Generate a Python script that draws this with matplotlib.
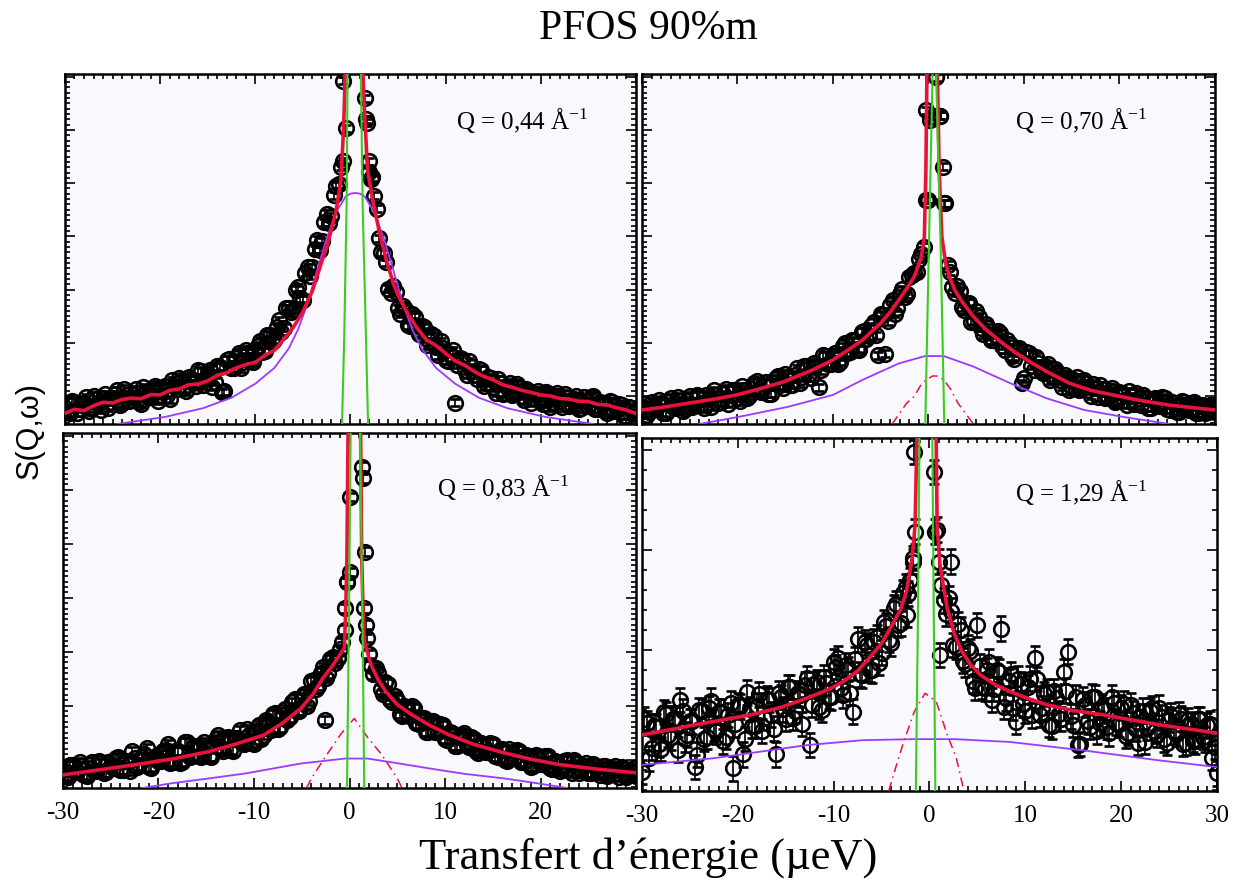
import numpy as np
import matplotlib
matplotlib.use("Agg")
import matplotlib.pyplot as plt
from matplotlib.ticker import FixedLocator

plt.rcParams['axes.unicode_minus'] = False
plt.rcParams['mathtext.fontset'] = 'custom'
plt.rcParams['mathtext.rm'] = 'Liberation Serif'

# ---------------- data (arbitrary intensity units, 0-100 per panel) ----------------
# energy channels (µeV): two interleaved channel sets
energy = np.linspace(-30, 30, 121)
energy_b = np.linspace(-29.75, 29.75, 120)

q_values = ['0,44', '0,70', '0,83', '1,29']

s1 = [4.5, 3.1, 6.4, 4.3, 6.1, 3.7, 8.0, 5.7, 7.5, 4.6,
      7.3, 9.7, 5.9, 8.4, 6.9, 9.9, 5.8, 9.0, 7.6, 10.8,
      8.3, 10.8, 7.1, 10.8, 13.1, 10.2, 13.3, 11.7, 15.3, 11.2,
      14.4, 10.7, 16.5, 9.0, 18.3, 16.0, 18.9, 15.9, 21.2, 18.2,
      20.8, 23.8, 20.8, 25.3, 24.1, 29.6, 27.5, 33.0, 32.6, 39.1,
      35.5, 44.8, 44.8, 52.7, 52.2, 60.0, 59.4, 68.0, 73.5, 84.5,
      130, 150, 125, 93.0, 75.0, 65.2, 53.1, 48.8, 38.6, 39.4,
      33.0, 33.6, 28.2, 31.3, 27.0, 28.0, 22.5, 25.6, 21.9, 23.7,
      18.2, 20.0, 6.0, 18.9, 15.4, 17.9, 14.0, 15.6, 10.8, 13.3,
      10.5, 12.8, 8.6, 10.7, 8.2, 11.3, 8.0, 9.9, 6.1, 8.5,
      6.5, 9.1, 4.8, 8.0, 6.6, 8.6, 5.0, 7.0, 4.3, 7.6,
      5.2, 8.0, 4.3, 6.0, 3.2, 6.3, 4.1, 5.5, 2.4, 4.6,
      3.0]
t1 = [3.3, 6.5, 3.2, 5.8, 7.7, 4.5, 7.0, 4.1, 8.5, 6.3,
      8.5, 5.3, 10.1, 6.6, 8.4, 6.3, 10.5, 7.6, 10.2, 6.6,
      10.3, 8.3, 12.5, 9.9, 12.7, 9.4, 12.8, 10.9, 15.1, 12.8,
      15.5, 12.1, 16.4, 9.4, 18.5, 15.9, 20.3, 17.6, 20.4, 17.7,
      22.4, 20.7, 25.5, 23.5, 27.8, 26.3, 33.1, 31.9, 38.3, 35.9,
      43.2, 42.4, 49.9, 49.8, 57.7, 57.5, 65.4, 68.5, 75.0, 120,
      140, 140, 110, 86.0, 70.5, 61.5, 49.0, 46.2, 37.5, 37.8,
      31.5, 32.9, 27.9, 30.7, 25.7, 27.6, 23.6, 25.1, 19.7, 21.8,
      18.1, 21.0, 16.9, 18.6, 14.1, 16.2, 12.9, 15.5, 11.8, 13.0,
      8.9, 11.6, 8.9, 11.8, 8.6, 10.5, 6.8, 9.3, 7.5, 9.5,
      5.8, 8.5, 6.2, 8.9, 4.8, 7.5, 5.4, 7.9, 4.5, 6.7,
      7.7, 4.2, 6.4, 3.6, 6.5, 3.8, 5.7, 2.4, 4.8, 3.2]
s2 = [4.8, 2.7, 6.3, 4.2, 6.0, 3.1, 7.5, 4.7, 6.6, 4.4,
      8.0, 5.3, 8.0, 4.5, 7.5, 9.6, 6.1, 8.5, 5.8, 9.8,
      7.5, 10.8, 7.5, 9.9, 12.2, 9.1, 11.9, 8.7, 13.1, 11.1,
      14.3, 11.2, 14.1, 11.6, 16.5, 14.3, 17.4, 10.5, 19.6, 17.2,
      19.5, 17.2, 22.2, 20.2, 23.9, 21.5, 26.4, 24.4, 27.9, 25.3,
      31.4, 20.0, 34.1, 31.5, 37.2, 36.2, 42.0, 43.0, 47.2, 50.6,
      64.0, 88.0, 140, 73.5, 45.5, 39.2, 39.3, 33.3, 34.6, 29.2,
      32.2, 27.5, 28.6, 23.9, 25.5, 25.9, 21.2, 22.9, 18.7, 21.8,
      13.0, 20.2, 15.5, 17.4, 14.5, 17.1, 13.3, 14.9, 10.7, 13.2,
      10.2, 13.4, 10.0, 11.7, 8.1, 10.2, 11.1, 7.4, 9.3, 6.2,
      9.2, 6.9, 9.4, 5.8, 7.3, 8.4, 4.7, 7.2, 5.3, 7.6,
      4.2, 6.2, 3.3, 6.5, 4.6, 5.9, 3.1, 5.1, 3.1, 5.5,
      3.4]
t2 = [5.7, 3.3, 4.9, 6.8, 3.2, 6.3, 4.8, 7.8, 3.8, 6.7,
      4.8, 8.4, 6.0, 8.3, 4.9, 8.3, 6.4, 10.1, 7.2, 9.8,
      6.5, 9.8, 8.1, 11.8, 9.3, 11.8, 8.7, 11.8, 13.8, 10.4,
      13.5, 11.2, 15.9, 13.4, 16.6, 13.2, 16.9, 15.4, 19.5, 17.0,
      20.3, 17.8, 23.0, 20.5, 23.6, 21.2, 26.5, 25.1, 29.2, 19.7,
      31.0, 29.4, 35.5, 33.2, 38.5, 37.1, 42.7, 43.4, 48.5, 64.0,
      130, 130, 88.0, 63.0, 43.5, 37.5, 38.1, 32.5, 34.7, 29.5,
      30.7, 25.6, 27.5, 23.9, 26.5, 22.4, 23.9, 19.4, 21.5, 11.6,
      20.5, 16.6, 19.2, 15.2, 16.5, 12.5, 15.7, 12.5, 13.9, 9.7,
      12.5, 9.7, 12.7, 9.7, 11.4, 7.6, 9.9, 7.7, 10.4, 6.5,
      8.9, 5.5, 7.9, 8.9, 5.3, 7.5, 4.6, 7.5, 5.2, 7.3,
      4.1, 6.1, 3.5, 6.3, 3.9, 6.3, 3.1, 5.3, 3.5, 5.3]
s3 = [5.0, 3.2, 6.5, 4.4, 6.2, 3.5, 7.4, 4.8, 7.1, 4.4,
      6.5, 8.5, 5.2, 7.5, 4.8, 8.5, 6.4, 9.7, 6.0, 8.5,
      7.5, 10.5, 12.3, 7.4, 10.4, 7.3, 12.9, 8.9, 11.8, 8.6,
      11.4, 8.8, 13.8, 11.1, 14.0, 10.8, 14.1, 16.3, 12.3, 14.9,
      12.5, 17.7, 14.9, 18.3, 20.8, 16.6, 20.5, 19.2, 24.1, 21.7,
      25.6, 23.1, 30.2, 28.0, 32.5, 31.1, 36.4, 35.2, 39.2, 44.6,
      60.9, 150, 150, 50.6, 37.8, 32.0, 32.4, 26.5, 29.4, 24.1,
      24.9, 20.2, 22.4, 23.1, 18.2, 19.7, 15.9, 19.0, 15.9, 18.0,
      13.8, 15.9, 11.8, 14.3, 15.4, 11.5, 13.7, 9.9, 12.2, 10.5,
      12.5, 8.6, 11.1, 7.5, 10.0, 10.8, 7.3, 9.2, 6.0, 9.2,
      6.8, 9.1, 5.6, 7.6, 4.8, 7.7, 5.7, 8.0, 4.3, 6.2,
      4.3, 6.9, 4.4, 6.2, 3.3, 5.7, 4.2, 6.0, 3.2, 5.0,
      3.4]
t3 = [3.4, 6.5, 4.4, 7.2, 3.7, 6.4, 4.7, 7.7, 4.2, 7.4,
      5.6, 8.8, 5.1, 7.6, 10.3, 5.8, 8.8, 11.2, 5.7, 8.9,
      7.5, 10.7, 7.0, 10.3, 7.1, 13.0, 8.8, 11.9, 8.9, 13.0,
      8.9, 12.3, 14.9, 10.4, 14.3, 10.5, 14.1, 12.7, 16.5, 12.7,
      16.2, 13.7, 19.1, 16.3, 21.0, 17.1, 22.2, 19.9, 25.2, 21.7,
      26.6, 24.5, 30.4, 28.8, 34.0, 32.3, 36.9, 36.6, 41.0, 58.0,
      150, 150, 130, 46.0, 34.5, 33.7, 27.8, 29.9, 24.9, 25.8,
      20.9, 23.2, 20.3, 22.5, 17.9, 19.6, 15.8, 18.8, 15.8, 17.8,
      13.5, 15.4, 11.8, 14.9, 12.2, 14.4, 10.4, 12.7, 10.2, 12.7,
      8.9, 10.7, 7.9, 11.0, 8.5, 10.5, 7.2, 9.0, 6.1, 8.9,
      6.8, 8.9, 5.4, 7.4, 5.4, 7.9, 4.3, 6.8, 5.1, 7.0,
      4.2, 6.2, 3.6, 6.2, 4.1, 6.1, 3.2, 5.4, 3.7, 5.6]
s4 = [5.4, 19.3, 12.2, 18.2, 11.9, 21.7, 15.2, 20.5, 25.8, 14.6,
      19.7, 6.8, 22.9, 14.7, 23.5, 17.7, 22.5, 14.1, 21.5, 6.4,
      24.3, 10.4, 28.0, 18.5, 24.2, 17.0, 26.2, 21.6, 10.4, 26.6,
      20.5, 29.5, 22.7, 27.2, 30.1, 13.0, 30.2, 23.8, 32.2, 26.7,
      36.6, 37.6, 27.1, 34.6, 22.5, 43.0, 32.8, 41.3, 34.2, 43.5,
      39.2, 46.8, 41.8, 53.1, 47.5, 57.9, 59.8, 73.5, 150, 150,
      150, 90.4, 65.0, 54.0, 54.6, 41.4, 47.2, 36.9, 40.6, 31.2,
      47.0, 29.6, 34.2, 25.8, 34.4, 46.0, 26.3, 33.1, 19.6, 30.3,
      22.7, 31.8, 37.6, 21.5, 27.5, 18.7, 28.3, 21.9, 33.8, 39.5,
      18.7, 13.0, 26.1, 19.7, 26.7, 16.9, 23.9, 18.1, 26.6, 19.3,
      23.6, 15.7, 24.3, 17.7, 21.1, 14.0, 22.8, 17.0, 23.6, 14.6,
      20.2, 16.9, 21.8, 13.3, 20.0, 14.5, 20.3, 15.3, 18.6, 9.4,
      5.0]
t4 = [20.3, 9.3, 18.4, 13.2, 22.4, 15.9, 20.5, 11.7, 22.7, 16.0,
      19.7, 10.3, 22.6, 15.3, 25.6, 16.9, 22.5, 15.3, 24.9, 18.9,
      24.0, 14.7, 23.2, 18.5, 27.4, 20.7, 25.8, 17.7, 27.8, 23.1,
      29.5, 20.7, 27.7, 19.0, 31.9, 24.4, 30.9, 23.0, 30.7, 26.5,
      35.1, 29.1, 35.7, 27.9, 37.3, 33.1, 42.1, 34.3, 42.3, 36.3,
      47.9, 42.9, 51.9, 47.1, 56.2, 55.9, 66.0, 130, 150, 150,
      150, 74.0, 58.5, 50.2, 51.1, 40.8, 45.7, 35.9, 39.7, 29.2,
      35.4, 29.1, 36.6, 28.9, 33.8, 23.9, 31.1, 23.6, 31.8, 24.6,
      29.5, 21.4, 31.7, 23.5, 28.1, 18.3, 26.3, 20.4, 28.4, 21.2,
      26.6, 13.3, 24.5, 18.2, 26.6, 19.2, 22.9, 16.3, 24.8, 18.9,
      24.7, 16.5, 22.1, 13.7, 22.8, 17.9, 23.5, 15.9, 20.9, 13.7,
      21.3, 16.2, 20.5, 13.6, 19.0, 14.1, 20.3, 14.5, 19.1, 12.5]

# extra points close to the elastic peak
xc1 = [-0.8, 1.6, 1.9, 2.2]
yc1 = [98.0, 87.0, 72.0, 70.0]
xc2 = [-0.3, 0.2, 1.2, 1.65, 0.8]
yc2 = [89.7, 86.8, 88.0, 63.0, 99.0]
xc3 = [-0.45, -0.25, 0.1, 1.3, 1.45, 1.65, 1.85, -2.6]
yc3 = [50.6, 58.0, 82.0, 90.5, 87.2, 66.6, 42.2, 19.2]
xc4 = [-1.75, -1.6, 0.55, 1.1, 2.2, -2.3]
yc4 = [65.0, 96.0, 73.5, 38.5, 65.0, 50.0]

err = [1.0, 1.0, 1.2, 3.5]

# total fit (red)
fx1 = [-30, -29, -28, -27, -26, -25, -24, -23, -22, -21, -20, -19, -18, -17, -16, -15,
       -14, -13, -12, -11, -10, -9, -8, -7, -6, -5, -4, -3, -2.5, -2, -1.5, -1, -0.8,
       -0.65, -0.55, 0.4, 1.3, 1.5, 1.8, 2.4, 3, 3.7, 4.5, 5, 6, 7, 8, 9, 10, 11, 12,
       13, 14, 15, 16, 17, 18, 19, 20, 21, 22, 23, 24, 25, 26, 27, 28, 29, 30]
fy1 = [3.0, 4.2, 3.8, 5.2, 6.2, 6.0, 7.0, 7.4, 7.2, 8.4, 8.3, 9.6, 10.0, 11.2, 11.4, 12.3,
       13.9, 14.6, 16.0, 17.0, 17.6, 19.6, 21.0, 24.2, 27.6, 32.0, 38.0, 46.5, 50.5, 55.5,
       61.0, 69.7, 80.0, 90.0, 101, 500, 101, 88.0, 72.6, 63.0, 55.4, 47.6, 40.2, 36.8,
       31.6, 27.4, 24.0, 22.4, 20.2, 18.0, 16.8, 15.0, 13.6, 12.6, 11.2, 10.5, 9.6, 9.0,
       8.3, 8.0, 7.3, 7.1, 6.5, 6.4, 5.6, 5.4, 4.6, 4.0, 3.0]
fx2 = [-30, -28, -25.2, -22, -20.1, -18, -15.1, -12, -10, -8, -6.9, -5, -4, -3.1, -2.2,
       -1.5, -1.1, -0.74, -0.43, -0.27, -0.16, 0.4, 0.93, 1.12, 1.4, 1.8, 2.2, 2.75, 3.5,
       4.7, 6, 7.8, 9, 10.9, 12.5, 14.8, 17, 20.2, 22, 25.2, 27.5, 30]
fy2 = [4.0, 4.7, 5.9, 7.3, 8.3, 9.8, 12.1, 15.6, 18.3, 21.9, 24.0, 28.8, 32.0, 35.4, 39.0,
       42.0, 45.0, 47.8, 53.5, 72.6, 101, 500, 101, 72.6, 53.5, 45.9, 42.0, 38.3, 35.0,
       30.7, 27.0, 23.0, 20.6, 17.3, 14.8, 11.6, 9.6, 7.8, 6.8, 5.4, 4.7, 4.0]
fx3 = [-30, -26, -22.6, -18.5, -14.8, -12, -9, -7, -5.1, -3.8, -2.8, -1.9, -1.24, -0.8,
       -0.54, -0.4, -0.27, -0.15, 0.5, 1.16, 1.28, 1.4, 1.55, 2.25, 3.0, 3.8, 5, 6.5, 8.3,
       10.4, 13, 16.2, 19, 22, 26, 30]
fy3 = [3.7, 5.2, 6.5, 8.2, 10.2, 12.3, 14.9, 18.3, 22.4, 26.5, 30.9, 34.0, 36.6, 38.4,
       39.4, 50.0, 64.7, 101, 500, 101, 64.7, 52.0, 41.3, 34.7, 30.5, 27.2, 23.5, 20.7,
       17.8, 15.0, 12.3, 9.9, 8.1, 6.6, 5.3, 4.3]
fx4 = [-30, -27, -24.4, -21.5, -18.6, -15.5, -12.8, -10.5, -9, -7.5, -6.3, -5, -3.9, -3,
       -2.4, -1.8, -1.5, -1.3, -0.3, 0.7, 0.8, 1.1, 1.85, 2.6, 3.4, 4.3, 5.3, 6.8, 8.4,
       10.3, 12.3, 15, 18.1, 21, 23.9, 27, 30]
fy4 = [15.9, 17.4, 18.8, 20.2, 21.6, 23.7, 26.3, 28.8, 31.0, 34.0, 37.6, 41.8, 47.0, 51.5,
       56.5, 66.0, 75.4, 101, 500, 101, 75.4, 64.0, 51.8, 44.5, 39.5, 35.8, 32.9, 30.2,
       28.2, 26.2, 24.4, 22.8, 21.6, 20.2, 18.8, 17.6, 16.4]

# broad Lorentzian (purple)
px1 = [-24.5, -19.5, -15.5, -12.5, -10, -8, -6.5, -5.5, -4.5, -3.5, -2.5, -1.5, -0.5, 0.0,
       0.5, 1.0, 1.5, 2.5, 3.5, 4.5, 5.5, 6.5, 7.5, 9, 11, 13.5, 16.5, 20.5, 25.5]
py1 = [0, 2.0, 4.5, 7.5, 11.5, 16.0, 21.5, 27.0, 34.5, 44.0, 53.0, 60.5, 65.0, 65.8,
       66.0, 65.8, 65.0, 60.5, 53.0, 44.0, 34.5, 27.0, 21.5, 16.0, 11.5, 7.5, 4.5, 2.0, 0]
px2 = [-24, -21.5, -19, -14.7, -10, -6.9, -3.1, -0.35, 1.6, 4.7, 8.6, 12.4, 16.3, 20.2, 25.2]
py2 = [0, 1.2, 2.5, 4.9, 8.3, 12.6, 17.3, 19.4, 19.4, 16.4, 11.6, 7.3, 4.0, 2.1, 0]
px3 = [-21.7, -18.7, -15, -10.9, -5.1, -0.46, 1.86, 5, 8.4, 12, 16.2, 19, 22.8]
py3 = [0, 1.3, 2.6, 4.1, 6.9, 8.3, 8.3, 7.0, 5.5, 4.0, 2.7, 1.6, 0]
px4 = [-30, -22.5, -12.8, -7, -1.6, 2.6, 8.4, 16.1, 23.9, 30]
py4 = [7.4, 9.3, 13.0, 14.4, 14.7, 14.7, 13.9, 11.5, 8.7, 6.8]

# narrow quasi-elastic component (red dash-dot)
dx2 = [-3.8, -2.3, -1.5, -0.7, 0.4, 1.0, 1.6, 2.3, 3.1, 4.7]
dy2 = [0, 5.9, 7.8, 11.6, 13.7, 13.7, 12.6, 10.0, 5.9, 0]
dx3 = [-4.5, -4, -2.4, -0.85, 0.5, 1.86, 3.4, 5, 5.5]
dy3 = [0, 2.7, 9.3, 15.4, 19.6, 14.4, 9.3, 2.7, 0]
dx4 = [-4.25, -3.55, -2.8, -1.6, -0.46, 0.7, 1.85, 2.8, 3.6]
dy4 = [0, 6.4, 13.0, 22.4, 27.7, 25.4, 16.0, 9.4, 0]

# elastic peak (green)
gx1 = [-0.9, -0.65, -0.4, -0.3, 0.4, 1.1, 1.28, 1.63, 1.87]
gy1 = [-2, 25, 63, 100, 400, 100, 63, 25, -2]
gx2 = [-0.35, 0.04, 0.43, 0.6, 0.8, 1.28, 1.67]
gy2 = [-2, 50, 100, 400, 100, 50, -2]
gx3 = [-0.27, -0.05, 0.12, 0.6, 1.1, 1.35, 1.55]
gy3 = [-2, 50, 100, 400, 100, 50, -2]
gx4 = [-1.43, -1.2, -1.04, -0.37, 0.3, 0.45, 0.62]
gy4 = [-2, 50, 100, 400, 100, 50, -2]

xtick_vals = [-30, -20, -10, 0, 10, 20, 30]

# ---------------- figure ----------------
fig = plt.figure(figsize=(12.35, 8.89), dpi=100)
positions = [[0.0526, 0.5231, 0.4623, 0.3937],
             [0.5198, 0.5231, 0.4640, 0.3937],
             [0.0510, 0.1136, 0.4640, 0.3993],
             [0.5198, 0.1102, 0.4656, 0.3971]]
q_pos = [(0.685, 0.84), (0.651, 0.84), (0.653, 0.82), (0.649, 0.82)]

data_a = [s1, s2, s3, s4]
data_b = [t1, t2, t3, t4]
extras = [(xc1, yc1), (xc2, yc2), (xc3, yc3), (xc4, yc4)]
fits = [(fx1, fy1), (fx2, fy2), (fx3, fy3), (fx4, fy4)]
purples = [(px1, py1), (px2, py2), (px3, py3), (px4, py4)]
dashes = [None, (dx2, dy2), (dx3, dy3), (dx4, dy4)]
greens = [(gx1, gy1), (gx2, gy2), (gx3, gy3), (gx4, gy4)]

RED = '#e8123c'
PURPLE = '#9a3cff'
GREEN = '#3ccc1e'

for i in range(4):
    ax = fig.add_axes(positions[i])
    ax.set_facecolor('#f8f8fd')
    x = np.concatenate([energy, energy_b, extras[i][0]])
    y = np.concatenate([data_a[i], data_b[i], extras[i][1]])
    ax.errorbar(x, y, yerr=err[i], fmt='o', ms=10.5, mfc='none', mec='black', mew=1.9,
                ecolor='black', elinewidth=1.2, capsize=3.5, capthick=1.2, zorder=2)
    ax.plot(purples[i][0], purples[i][1], color=PURPLE, lw=1.3, zorder=3)
    if dashes[i] is not None:
        ax.plot(dashes[i][0], dashes[i][1], color=RED, lw=1.1,
                linestyle=(0, (6, 3, 1, 3)), zorder=4)
    ax.plot(fits[i][0], fits[i][1], color=RED, lw=2.6, zorder=4)
    ax.plot(greens[i][0], greens[i][1], color=GREEN, lw=1.5, zorder=5)

    ax.set_xlim(-30, 30)
    ax.set_ylim(0, 100)

    ax.text(q_pos[i][0], q_pos[i][1],
            'Q = ' + q_values[i] + r' Å$^{\mathregular{-1}}$',
            transform=ax.transAxes, fontsize=18, family='Liberation Serif',
            ha='left', va='baseline')

    # ticks
    ax.xaxis.set_major_locator(FixedLocator(xtick_vals))
    ax.xaxis.set_minor_locator(FixedLocator(np.arange(-30, 31, 1)))
    if i < 3:
        ax.yaxis.set_major_locator(FixedLocator(np.arange(8 - 15.2, 101, 15.2)))
        ax.yaxis.set_minor_locator(FixedLocator(np.arange(8 - 15.2, 101, 1.52)))
    else:
        ax.yaxis.set_major_locator(FixedLocator(np.arange(11.6 - 28.3, 101, 28.3)))
        ax.yaxis.set_minor_locator(FixedLocator(np.arange(11.6 - 28.3, 101, 5.66)))
    ax.tick_params(which='both', direction='in', top=True, right=True, width=1.2)
    ax.tick_params(which='major', length=7)
    ax.tick_params(which='minor', length=3.5)
    ax.set_yticklabels([])
    if i < 2:
        ax.set_xticklabels([])
    else:
        labels = [str(v) for v in xtick_vals]
        if i == 2:
            labels[-1] = ''
        ax.set_xticklabels(labels, fontsize=18, family='Liberation Serif')
        ax.tick_params(axis='x', which='major', pad=10)
    for sp in ax.spines.values():
        sp.set_linewidth(1.8)

fig.text(0.525, 0.968, 'PFOS 90%m', ha='center', va='center',
         fontsize=30, family='Liberation Serif')
fig.text(0.525, 0.035, 'Transfert d\u2019énergie (µeV)', ha='center', va='center',
         fontsize=32, family='Liberation Serif')
fig.text(0.024, 0.516, 'S(Q,ω)', ha='center', va='center', rotation=90,
         fontsize=22, family='Liberation Sans')

fig.savefig('out.png', dpi=100)
